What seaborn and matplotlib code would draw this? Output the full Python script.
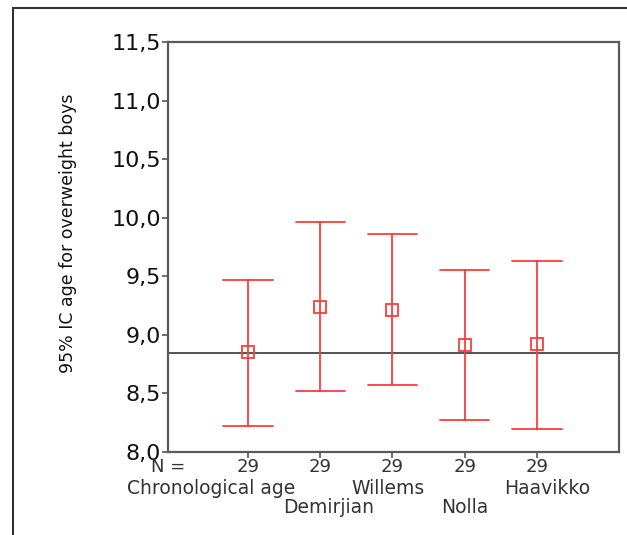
import numpy as np
import pandas as pd
import matplotlib
matplotlib.use("Agg")
import matplotlib.pyplot as plt
import seaborn as sns
from matplotlib.patches import Rectangle

# ---- data ----
methods = ["Chronological age", "Demirjian", "Willems", "Nolla", "Haavikko"]
means = [8.85, 9.24, 9.21, 8.91, 8.92]
lower = [8.22, 8.52, 8.57, 8.27, 8.20]
upper = [9.47, 9.96, 9.86, 9.55, 9.63]
n_counts = [29, 29, 29, 29, 29]
ref_line = 8.845
yticks = [8.0, 8.5, 9.0, 9.5, 10.0, 10.5, 11.0, 11.5]
# label row (0 = first row under N, 1 = second row) and horizontal nudge
label_rows = [0, 1, 0, 1, 0]
label_nudge = [-0.51, 0.11, -0.06, 0.0, 0.14]

rows = []
for m, lo, me, hi in zip(methods, lower, means, upper):
    for v in (lo, me, hi):
        rows.append({"method": m, "value": v})
df = pd.DataFrame(rows)

sns.set_style("white")
plt.rcParams["font.family"] = ["DejaVu Sans"]

fig = plt.figure(figsize=(6.27, 5.35), dpi=100)
ax = fig.add_axes([168/627, 1-452/535, (619-168)/627, (452-42)/535])

red = "#ff3b3b"
sns.pointplot(data=df, x="method", y="value", order=methods,
              estimator="median", errorbar=lambda x: (x.min(), x.max()),
              capsize=0.68, linestyle="none", marker="s", markersize=8,
              markerfacecolor="none", markeredgewidth=1.3,
              color=red, err_kws={"linewidth": 1.3}, ax=ax)

ax.axhline(ref_line, color="#444444", linewidth=1.3, zorder=1)

ax.set_xlim(-1.108, 5.136)
ax.set_ylim(8.0, 11.5)
ax.set_yticks(yticks)
ax.set_yticklabels([f"{t:.1f}".replace(".", ",") for t in yticks], fontsize=16, color="#111111")
ax.set_xticks(range(len(methods)))
ax.set_xticklabels([str(n) for n in n_counts], fontsize=13, color="#333333")
ax.tick_params(axis="y", length=4, width=1.2, color="#555555", pad=1, left=True)
ax.tick_params(axis="x", length=4, width=1.2, color="#555555", pad=0.5, bottom=True)
ax.set_xlabel("")
ax.set_ylabel("")

for s in ax.spines.values():
    s.set_color("#5a5a5a")
    s.set_linewidth(1.6)

ax.text(0.0, -0.037, "N =", transform=ax.transAxes, ha="center", va="center",
        fontsize=13, color="#333333")
row_y = [-(488.5 - 452) / 410, -(507.5 - 452) / 410]
trans = matplotlib.transforms.blended_transform_factory(ax.transData, ax.transAxes)
for i, (m, r, dx) in enumerate(zip(methods, label_rows, label_nudge)):
    ax.text(i + dx, row_y[r], m, transform=trans, ha="center", va="center",
            fontsize=13.5, color="#333333")

fig.text(68/627, 1-233/535, "95% IC age for overweight boys", rotation=90,
         ha="center", va="center", fontsize=12.5, color="#111111")

# outer frame
fig.patches.append(Rectangle((13/627, -0.1), 1.2, 1 - 8/535 + 0.1,
                             transform=fig.transFigure, fill=False,
                             edgecolor="#333333", linewidth=1.5))

fig.savefig("out.png", dpi=100)
